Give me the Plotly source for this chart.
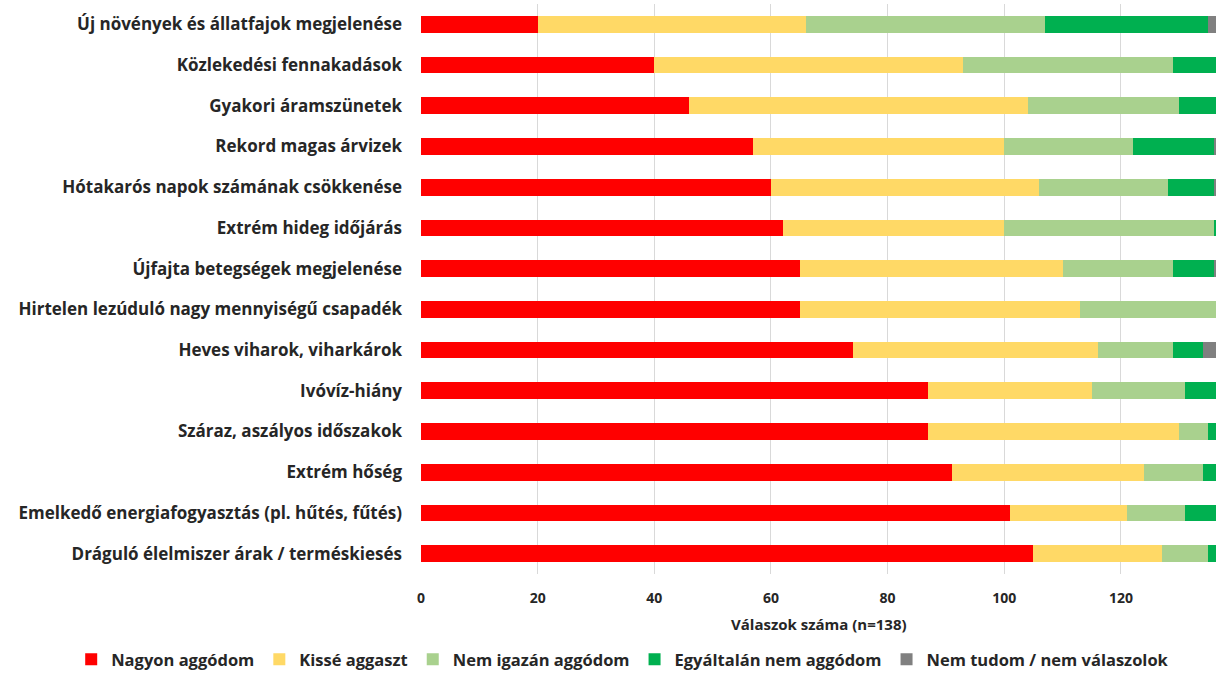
import plotly.graph_objects as go

categories = [
    "Új növények és állatfajok megjelenése",
    "Közlekedési fennakadások",
    "Gyakori áramszünetek",
    "Rekord magas árvizek",
    "Hótakarós napok számának csökkenése",
    "Extrém hideg időjárás",
    "Újfajta betegségek megjelenése",
    "Hirtelen lezúduló nagy mennyiségű csapadék",
    "Heves viharok, viharkárok",
    "Ivóvíz-hiány",
    "Száraz, aszályos időszakok",
    "Extrém hőség",
    "Emelkedő energiafogyasztás (pl. hűtés, fűtés)",
    "Dráguló élelmiszer árak / terméskiesés",
]

nagyon = [20, 40, 46, 57, 60, 62, 65, 65, 74, 87, 87, 91, 101, 105]
kisse = [46, 53, 58, 43, 46, 38, 45, 48, 42, 28, 43, 33, 20, 22]
nem_igazan = [41, 36, 26, 22, 22, 36, 19, 25, 13, 16, 5, 10, 10, 8]
egyaltalan = [28, 9, 8, 14, 8, 2, 7, 0, 5, 7, 3, 4, 7, 3]
nem_tudom = [3, 0, 0, 2, 2, 0, 2, 0, 4, 0, 0, 0, 0, 0]

series = [
    ("Nagyon aggódom", nagyon, "#FF0000"),
    ("Kissé aggaszt", kisse, "#FFD966"),
    ("Nem igazán aggódom", nem_igazan, "#A9D18E"),
    ("Egyáltalán nem aggódom", egyaltalan, "#00B050"),
    ("Nem tudom / nem válaszolok", nem_tudom, "#808080"),
]

tick_vals = [0, 20, 40, 60, 80, 100, 120]

fig = go.Figure()
for name, vals, color in series:
    fig.add_trace(go.Bar(
        y=categories, x=vals, name=name, orientation="h",
        marker=dict(color=color, line=dict(width=0)),
    ))

fig.update_layout(
    width=1216, height=677,
    barmode="stack", bargap=0.59,
    plot_bgcolor="white", paper_bgcolor="white",
    margin=dict(l=421, r=0, t=4, b=102),
    font=dict(family="Open Sans", color="#262626"),
    legend=dict(
        orientation="h", x=-0.44, xanchor="left", y=-0.1506, yanchor="middle",
        font=dict(size=16.5, family="Open Sans", weight="bold", color="#262626"),
        itemwidth=30, traceorder="normal",
    ),
    annotations=[dict(
        text="Válaszok száma (n=138)", xref="paper", yref="paper",
        x=0.5, y=-0.0876, xanchor="center", yanchor="middle", showarrow=False,
        font=dict(size=15, family="Open Sans", weight="bold", color="#262626"),
    )],
)
fig.update_xaxes(
    range=[0, 136.3], tickvals=tick_vals, showgrid=True, gridcolor="#D9D9D9",
    gridwidth=1, zeroline=False, showline=False, ticks="",
    tickfont=dict(size=14, family="Open Sans", weight="bold", color="#262626"),
    ticklabelstandoff=14,
)
fig.update_yaxes(
    autorange="reversed", showgrid=False, ticks="", showline=False,
    tickfont=dict(size=17, family="Open Sans", weight="bold", color="#262626"),
    ticklabelstandoff=18,
)

fig.write_html("out.html")
